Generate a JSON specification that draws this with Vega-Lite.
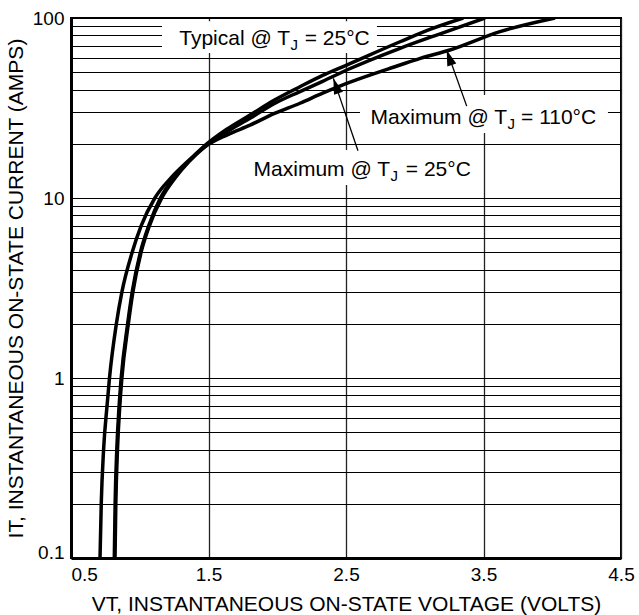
{
  "$schema": "https://vega.github.io/schema/vega-lite/v6.json",
  "width": 550,
  "height": 540,
  "autosize": {"type": "none"},
  "padding": {"left": 71, "top": 18, "right": 18, "bottom": 57},
  "background": "white",
  "config": {
    "font": "Liberation Sans",
    "view": {"stroke": "black", "strokeWidth": 2},
    "axis": {"labelFont": "Liberation Sans", "titleFont": "Liberation Sans", "labelColor": "black", "titleColor": "black", "titleFontWeight": "normal"}
  },
  "datasets": {
    "curves": [
      {"curve": "Typical @ TJ = 25°C", "V": 0.815, "I": 0.1},
      {"curve": "Typical @ TJ = 25°C", "V": 0.821, "I": 0.2},
      {"curve": "Typical @ TJ = 25°C", "V": 0.833, "I": 0.4},
      {"curve": "Typical @ TJ = 25°C", "V": 0.850, "I": 0.7},
      {"curve": "Typical @ TJ = 25°C", "V": 0.865, "I": 1},
      {"curve": "Typical @ TJ = 25°C", "V": 0.912, "I": 2},
      {"curve": "Typical @ TJ = 25°C", "V": 0.945, "I": 3},
      {"curve": "Typical @ TJ = 25°C", "V": 1.005, "I": 5},
      {"curve": "Typical @ TJ = 25°C", "V": 1.065, "I": 7},
      {"curve": "Typical @ TJ = 25°C", "V": 1.150, "I": 10},
      {"curve": "Typical @ TJ = 25°C", "V": 1.250, "I": 13},
      {"curve": "Typical @ TJ = 25°C", "V": 1.355, "I": 16},
      {"curve": "Typical @ TJ = 25°C", "V": 1.465, "I": 19.3},
      {"curve": "Typical @ TJ = 25°C", "V": 1.630, "I": 24},
      {"curve": "Typical @ TJ = 25°C", "V": 1.802, "I": 28.9},
      {"curve": "Typical @ TJ = 25°C", "V": 1.980, "I": 35},
      {"curve": "Typical @ TJ = 25°C", "V": 2.165, "I": 41.5},
      {"curve": "Typical @ TJ = 25°C", "V": 2.330, "I": 48},
      {"curve": "Typical @ TJ = 25°C", "V": 2.505, "I": 54.8},
      {"curve": "Typical @ TJ = 25°C", "V": 2.893, "I": 73.8},
      {"curve": "Typical @ TJ = 25°C", "V": 3.120, "I": 87},
      {"curve": "Typical @ TJ = 25°C", "V": 3.353, "I": 100},
      {"curve": "Maximum @ TJ = 25°C", "V": 0.820, "I": 0.1},
      {"curve": "Maximum @ TJ = 25°C", "V": 0.826, "I": 0.2},
      {"curve": "Maximum @ TJ = 25°C", "V": 0.838, "I": 0.4},
      {"curve": "Maximum @ TJ = 25°C", "V": 0.855, "I": 0.7},
      {"curve": "Maximum @ TJ = 25°C", "V": 0.870, "I": 1},
      {"curve": "Maximum @ TJ = 25°C", "V": 0.917, "I": 2},
      {"curve": "Maximum @ TJ = 25°C", "V": 0.950, "I": 3},
      {"curve": "Maximum @ TJ = 25°C", "V": 1.010, "I": 5},
      {"curve": "Maximum @ TJ = 25°C", "V": 1.070, "I": 7},
      {"curve": "Maximum @ TJ = 25°C", "V": 1.160, "I": 10},
      {"curve": "Maximum @ TJ = 25°C", "V": 1.260, "I": 13},
      {"curve": "Maximum @ TJ = 25°C", "V": 1.360, "I": 16},
      {"curve": "Maximum @ TJ = 25°C", "V": 1.475, "I": 19.3},
      {"curve": "Maximum @ TJ = 25°C", "V": 1.640, "I": 23.5},
      {"curve": "Maximum @ TJ = 25°C", "V": 1.802, "I": 27.7},
      {"curve": "Maximum @ TJ = 25°C", "V": 1.980, "I": 33.5},
      {"curve": "Maximum @ TJ = 25°C", "V": 2.165, "I": 39.0},
      {"curve": "Maximum @ TJ = 25°C", "V": 2.330, "I": 44.5},
      {"curve": "Maximum @ TJ = 25°C", "V": 2.505, "I": 51.4},
      {"curve": "Maximum @ TJ = 25°C", "V": 2.893, "I": 67.9},
      {"curve": "Maximum @ TJ = 25°C", "V": 3.200, "I": 82.5},
      {"curve": "Maximum @ TJ = 25°C", "V": 3.511, "I": 100},
      {"curve": "Maximum @ TJ = 110°C", "V": 0.711, "I": 0.1},
      {"curve": "Maximum @ TJ = 110°C", "V": 0.720, "I": 0.2},
      {"curve": "Maximum @ TJ = 110°C", "V": 0.737, "I": 0.4},
      {"curve": "Maximum @ TJ = 110°C", "V": 0.762, "I": 0.7},
      {"curve": "Maximum @ TJ = 110°C", "V": 0.780, "I": 1},
      {"curve": "Maximum @ TJ = 110°C", "V": 0.830, "I": 2},
      {"curve": "Maximum @ TJ = 110°C", "V": 0.870, "I": 3},
      {"curve": "Maximum @ TJ = 110°C", "V": 0.945, "I": 5},
      {"curve": "Maximum @ TJ = 110°C", "V": 1.010, "I": 7},
      {"curve": "Maximum @ TJ = 110°C", "V": 1.110, "I": 10},
      {"curve": "Maximum @ TJ = 110°C", "V": 1.230, "I": 13},
      {"curve": "Maximum @ TJ = 110°C", "V": 1.350, "I": 16},
      {"curve": "Maximum @ TJ = 110°C", "V": 1.475, "I": 19.3},
      {"curve": "Maximum @ TJ = 110°C", "V": 1.640, "I": 22.5},
      {"curve": "Maximum @ TJ = 110°C", "V": 1.802, "I": 25.4},
      {"curve": "Maximum @ TJ = 110°C", "V": 1.980, "I": 29.5},
      {"curve": "Maximum @ TJ = 110°C", "V": 2.165, "I": 33.6},
      {"curve": "Maximum @ TJ = 110°C", "V": 2.330, "I": 38.2},
      {"curve": "Maximum @ TJ = 110°C", "V": 2.505, "I": 43.3},
      {"curve": "Maximum @ TJ = 110°C", "V": 2.893, "I": 54.8},
      {"curve": "Maximum @ TJ = 110°C", "V": 3.040, "I": 59.7},
      {"curve": "Maximum @ TJ = 110°C", "V": 3.256, "I": 66.4},
      {"curve": "Maximum @ TJ = 110°C", "V": 3.620, "I": 84},
      {"curve": "Maximum @ TJ = 110°C", "V": 4.020, "I": 100}
    ],
    "boxes": [
      {"V1": 1.162, "V2": 2.725, "I1": 64, "I2": 96},
      {"V1": 2.602, "V2": 4.405, "I1": 23, "I2": 37.3},
      {"V1": 1.787, "V2": 3.46, "I1": 11.8, "I2": 18.5}
    ],
    "labels": [
      {"main": "Typical @ T", "sub": "J", "rest": "= 25°C", "Vt": 2.093, "Vr": 2.2, "I": 70.8},
      {"main": "Maximum @ T", "sub": "J", "rest": "= 110°C", "Vt": 3.671, "Vr": 3.773, "I": 25.8},
      {"main": "Maximum @ T", "sub": "J", "rest": "= 25°C", "Vt": 2.82, "Vr": 2.935, "I": 13.3}
    ],
    "arrows": [
      {"V": 3.378, "I": 32.4, "V2": 3.232, "I2": 66.4},
      {"V": 2.587, "I": 18.3, "V2": 2.408, "I2": 46.2}
    ]
  },
  "layer": [
    {
      "data": {"name": "boxes"},
      "mark": {"type": "rect", "fill": "white"},
      "encoding": {
        "x": {
          "field": "V1", "type": "quantitative",
          "scale": {"type": "linear", "domain": [0.5, 4.5], "nice": false, "zero": false},
          "title": "VT, INSTANTANEOUS ON-STATE VOLTAGE (VOLTS)",
          "axis": {
            "values": [0.5, 1.5, 2.5, 3.5, 4.5],
            "format": ".1f",
            "grid": true, "gridColor": "#222", "gridWidth": 1.3,
            "domain": true, "domainColor": "black", "domainWidth": 3,
            "ticks": false, "tickSize": 0,
            "labelFontSize": 19, "labelPadding": 7, "labelFlush": false, "labelOverlap": false,
            "labelAlign": {"condition": {"test": "datum.value == 0.5", "value": "left"}, "value": "center"},
            "titleFontSize": 21, "titlePadding": 9
          }
        },
        "x2": {"field": "V2"},
        "y": {
          "field": "I1", "type": "quantitative",
          "scale": {"type": "log", "domain": [0.1, 100], "nice": false},
          "title": "IT, INSTANTANEOUS ON-STATE CURRENT (AMPS)",
          "axis": {
            "values": [0.1, 0.2, 0.3, 0.4, 0.5, 0.6, 0.7, 0.8, 0.9, 1, 2, 3, 4, 5, 6, 7, 8, 9, 10, 20, 30, 40, 50, 60, 70, 80, 90, 100],
            "format": "~g",
            "labelExpr": "datum.value == 0.1 || datum.value == 1 || datum.value == 10 || datum.value == 100 ? datum.label : ''",
            "grid": true, "gridColor": "black", "gridWidth": 1.2,
            "domain": true, "domainColor": "black", "domainWidth": 3,
            "ticks": false, "tickSize": 0,
            "labelFontSize": 19, "labelPadding": 7, "labelFlush": false, "labelOverlap": false,
            "labelBaseline": {"condition": {"test": "datum.value == 0.1", "value": "alphabetic"}, "value": "middle"},
            "titleFontSize": 21, "titlePadding": 6
          }
        },
        "y2": {"field": "I2"}
      }
    },
    {
      "data": {"name": "curves"},
      "mark": {"type": "line", "stroke": "black", "strokeWidth": 3.5, "strokeJoin": "round", "strokeCap": "butt", "interpolate": "monotone", "clip": true},
      "encoding": {
        "x": {"field": "V", "type": "quantitative", "scale": {"type": "linear", "domain": [0.5, 4.5], "nice": false, "zero": false}, "title": "VT, INSTANTANEOUS ON-STATE VOLTAGE (VOLTS)"},
        "y": {"field": "I", "type": "quantitative", "scale": {"type": "log", "domain": [0.1, 100], "nice": false}, "title": "IT, INSTANTANEOUS ON-STATE CURRENT (AMPS)"},
        "detail": {"field": "curve", "type": "nominal"}
      }
    },
    {
      "data": {"name": "arrows"},
      "mark": {"type": "rule", "stroke": "black", "strokeWidth": 1.3},
      "encoding": {
        "x": {"field": "V", "type": "quantitative", "scale": {"type": "linear", "domain": [0.5, 4.5], "nice": false, "zero": false}, "title": "VT, INSTANTANEOUS ON-STATE VOLTAGE (VOLTS)"},
        "y": {"field": "I", "type": "quantitative", "scale": {"type": "log", "domain": [0.1, 100], "nice": false}, "title": "IT, INSTANTANEOUS ON-STATE CURRENT (AMPS)"},
        "x2": {"field": "V2"},
        "y2": {"field": "I2"}
      }
    },
    {
      "data": {"name": "arrows"},
      "mark": {"type": "point", "shape": "M0,0L0.3,1L-0.3,1Z", "filled": true, "fill": "black", "stroke": null, "opacity": 1, "size": 1000, "angle": -19},
      "encoding": {
        "x": {"field": "V2", "type": "quantitative", "scale": {"type": "linear", "domain": [0.5, 4.5], "nice": false, "zero": false}, "title": "VT, INSTANTANEOUS ON-STATE VOLTAGE (VOLTS)"},
        "y": {"field": "I2", "type": "quantitative", "scale": {"type": "log", "domain": [0.1, 100], "nice": false}, "title": "IT, INSTANTANEOUS ON-STATE CURRENT (AMPS)"}
      }
    },
    {
      "data": {"name": "labels"},
      "mark": {"type": "text", "align": "right", "baseline": "alphabetic", "fontSize": 21, "font": "Liberation Sans", "color": "black"},
      "encoding": {
        "x": {"field": "Vt", "type": "quantitative", "scale": {"type": "linear", "domain": [0.5, 4.5], "nice": false, "zero": false}, "title": "VT, INSTANTANEOUS ON-STATE VOLTAGE (VOLTS)"},
        "y": {"field": "I", "type": "quantitative", "scale": {"type": "log", "domain": [0.1, 100], "nice": false}, "title": "IT, INSTANTANEOUS ON-STATE CURRENT (AMPS)"},
        "text": {"field": "main"}
      }
    },
    {
      "data": {"name": "labels"},
      "mark": {"type": "text", "align": "left", "baseline": "alphabetic", "fontSize": 15, "dx": 0.5, "dy": 5, "font": "Liberation Sans", "color": "black"},
      "encoding": {
        "x": {"field": "Vt", "type": "quantitative", "scale": {"type": "linear", "domain": [0.5, 4.5], "nice": false, "zero": false}, "title": "VT, INSTANTANEOUS ON-STATE VOLTAGE (VOLTS)"},
        "y": {"field": "I", "type": "quantitative", "scale": {"type": "log", "domain": [0.1, 100], "nice": false}, "title": "IT, INSTANTANEOUS ON-STATE CURRENT (AMPS)"},
        "text": {"field": "sub"}
      }
    },
    {
      "data": {"name": "labels"},
      "mark": {"type": "text", "align": "left", "baseline": "alphabetic", "fontSize": 21, "font": "Liberation Sans", "color": "black"},
      "encoding": {
        "x": {"field": "Vr", "type": "quantitative", "scale": {"type": "linear", "domain": [0.5, 4.5], "nice": false, "zero": false}, "title": "VT, INSTANTANEOUS ON-STATE VOLTAGE (VOLTS)"},
        "y": {"field": "I", "type": "quantitative", "scale": {"type": "log", "domain": [0.1, 100], "nice": false}, "title": "IT, INSTANTANEOUS ON-STATE CURRENT (AMPS)"},
        "text": {"field": "rest"}
      }
    }
  ]
}
